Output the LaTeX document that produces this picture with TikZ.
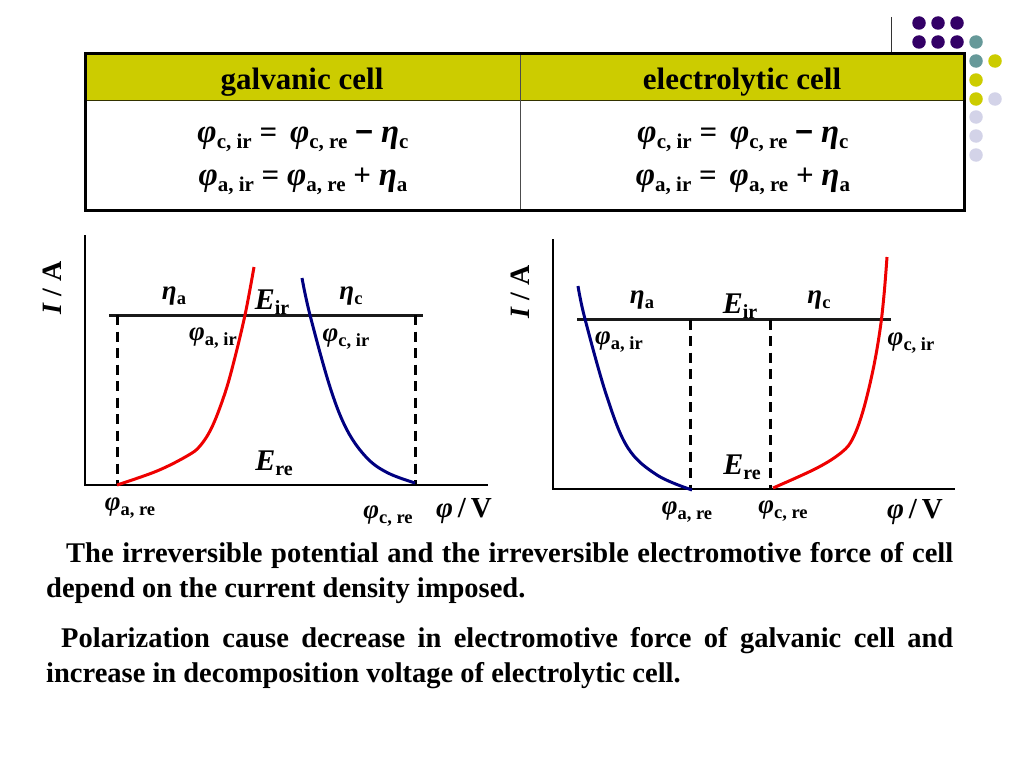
\documentclass[tikz,border=0pt]{standalone}
\usepackage{fontspec}
\setmainfont{Liberation Serif}
\newfontfamily\sansf{Liberation Sans}
\def\symsz{27}\def\subsz{18.5}\def\subdrop{5pt}
\newcommand\lab[2]{{\fontsize{\symsz}{\symsz}\selectfont\bfseries\itshape #1}\raisebox{-\subdrop}{\fontsize{\subsz}{\subsz}\selectfont\bfseries #2}}
\newcommand\tabsz{\def\symsz{33}\def\subsz{21}\def\subdrop{6pt}\fontsize{31}{31}\selectfont\bfseries}
\newcommand\elab{\def\symsz{30}\def\subsz{20}}
\newcommand\fullline[1]{\makebox[907pt][s]{#1}}
\definecolor{hdr}{HTML}{CCCC00}
\definecolor{dotp}{HTML}{330066}
\definecolor{dott}{HTML}{669999}
\definecolor{dotl}{HTML}{D3D3E8}
\definecolor{cvred}{HTML}{EE0000}
\definecolor{cvblue}{HTML}{000080}
\tikzset{
 axis line/.style={line width=2.8pt,black},
 level line/.style={line width=2.4pt,black!90},
 guide line/.style={line width=3pt,black,dash pattern=on 10pt off 6.5pt},
 curve red/.style={line width=3pt,cvred},
 curve blue/.style={line width=3pt,cvblue},
 lbl/.style={inner sep=0pt,outer sep=0pt,anchor=center},
 head/.style={lbl,font=\fontsize{31}{31}\selectfont\bfseries},
 axlab/.style={lbl,font=\fontsize{29}{29}\selectfont\bfseries},
 para/.style={inner sep=0pt,anchor=north west,align=left,font=\fontsize{28.5}{34.8}\selectfont\bfseries},
 dot/.style={circle,inner sep=0pt,minimum size=13.5pt,fill=#1},
}
\begin{document}
\begin{tikzpicture}[x=1pt,y=-1pt]
\useasboundingbox (0,0) rectangle (1024,768);
% decoration
\coordinate (vt) at (891.5,17); \coordinate (vb) at (891.5,54);
\draw[line width=1pt,black!80] (vt) -- (vb);
\foreach \x/\y/\c [count=\i] in {919/23/dotp,938/23/dotp,957/23/dotp,919/42/dotp,938/42/dotp,957/42/dotp,976/42/dott,976/61/dott,995/61/hdr,976/80/hdr,976/99/hdr,995/99/dotl,976/117/dotl,976/136/dotl,976/155/dotl}
  \node[dot=\c] (d\i) at (\x,\y) {};
% table
\fill[hdr] (85,54) rectangle (964,100);
\coordinate (ht1) at (85,100.5); \coordinate (ht2) at (964,100.5);
\coordinate (mt) at (520.5,54); \coordinate (mb) at (520.5,210);
\draw[line width=1.5pt,black!75!hdr] (ht1) -- (ht2);
\draw[line width=1pt,black!70] (mt) -- (mb);
\draw[line width=3pt,black] (85,54) rectangle (964,210);
\node[head] (h1) at (302,82) {galvanic cell};
\node[head] (h2) at (742,82) {electrolytic cell};
\node[lbl,font=\tabsz] (e1) at (303,139) {\lab{φ}{c, ir} = \,\lab{φ}{c, re} {\sansf −} \lab{η}{c}};
\node[lbl,font=\tabsz] (e2) at (303,181) {\lab{φ}{a, ir} = \lab{φ}{a, re} + \lab{η}{a}};
\node[lbl,font=\tabsz] (e3) at (743,139) {\lab{φ}{c, ir} = \,\lab{φ}{c, re} {\sansf −} \lab{η}{c}};
\node[lbl,font=\tabsz] (e4) at (743,181) {\lab{φ}{a, ir} = \,\lab{φ}{a, re} + \lab{η}{a}};
% left plot
\coordinate (lo) at (85,485); \coordinate (ly) at (85,235); \coordinate (lx) at (488,485);
\draw[axis line] (ly) -- (lo) -- (lx);
\coordinate (ll1) at (109,315.4); \coordinate (ll2) at (423,315.4);
\draw[level line] (ll1) -- (ll2);
\coordinate (ld1t) at (117,315); \coordinate (ld1b) at (117,485);
\coordinate (ld2t) at (415.5,315); \coordinate (ld2b) at (415.5,485);
\draw[guide line] (ld1t) -- (ld1b);
\draw[guide line] (ld2t) -- (ld2b);
\draw[curve red] plot[smooth,tension=0.6] coordinates {(117,485) (157,471) (187,456) (200,446) (212,427) (224,396) (233,365) (245,315) (254,267)};
\draw[curve blue] plot[smooth,tension=0.6] coordinates {(302,278) (310,315) (330,387) (347,430) (367,458) (388,473) (415,483)};
\node[lbl,rotate=90,font=\fontsize{28}{28}\selectfont\bfseries] (ya) at (52,288) {\textit{I} / A};
\node[lbl] (n1) at (174,296) {\lab{η}{a}};
\node[lbl] (n2) at (351,296) {\lab{η}{c}};
\node[lbl] (n3) at (272,302) {\elab\lab{E}{ir}};
\node[lbl] (n4) at (274,463) {\elab\lab{E}{re}};
\node[lbl] (n5) at (213,338) {\lab{φ}{a, ir}};
\node[lbl] (n6) at (346,339) {\lab{φ}{c, ir}};
\node[lbl] (n7) at (130,508) {\lab{φ}{a, re}};
\node[lbl] (n8) at (388,516) {\lab{φ}{c, re}};
\node[axlab] (xa) at (464,511) {\textit{φ}\,/\,V};
% right plot
\coordinate (ro) at (553,489); \coordinate (ry) at (553,239); \coordinate (rx) at (955,489);
\draw[axis line] (ry) -- (ro) -- (rx);
\coordinate (rl1) at (577,319.5); \coordinate (rl2) at (891,319.5);
\draw[level line] (rl1) -- (rl2);
\coordinate (rd1t) at (690,319.5); \coordinate (rd1b) at (690,489);
\coordinate (rd2t) at (770.5,319.5); \coordinate (rd2b) at (770.5,489);
\draw[guide line] (rd1t) -- (rd1b);
\draw[guide line] (rd2t) -- (rd2b);
\draw[curve blue] plot[smooth,tension=0.6] coordinates {(578,286) (585,319) (607,397) (628,448) (657,475) (692,490)};
\draw[curve red] plot[smooth,tension=0.6] coordinates {(773,488) (817,468) (842,452) (853,438) (863,411) (873,370) (880,330) (884,295) (887,257)};
\node[lbl,rotate=90,font=\fontsize{28}{28}\selectfont\bfseries] (yb) at (520,292) {\textit{I} / A};
\node[lbl] (m1) at (642,300) {\lab{η}{a}};
\node[lbl] (m2) at (819,300) {\lab{η}{c}};
\node[lbl] (m3) at (740,306) {\elab\lab{E}{ir}};
\node[lbl] (m4) at (742,467) {\elab\lab{E}{re}};
\node[lbl] (m5) at (619,342) {\lab{φ}{a, ir}};
\node[lbl] (m6) at (911,343) {\lab{φ}{c, ir}};
\node[lbl] (m7) at (687,512) {\lab{φ}{a, re}};
\node[lbl] (m8) at (783,511) {\lab{φ}{c, re}};
\node[axlab] (xb) at (915,512) {\textit{φ}\,/\,V};
% paragraphs
\node[para] (p1) at (46,542) {\fullline{\hspace*{20pt}The irreversible potential and the irreversible electromotive force of cell}\\depend on the current density imposed.};
\node[para] (p2) at (46,627.5) {\fullline{\hspace*{15pt}Polarization cause decrease in electromotive force of galvanic cell and}\\increase in decomposition voltage of electrolytic cell.};
\end{tikzpicture}
\end{document}
